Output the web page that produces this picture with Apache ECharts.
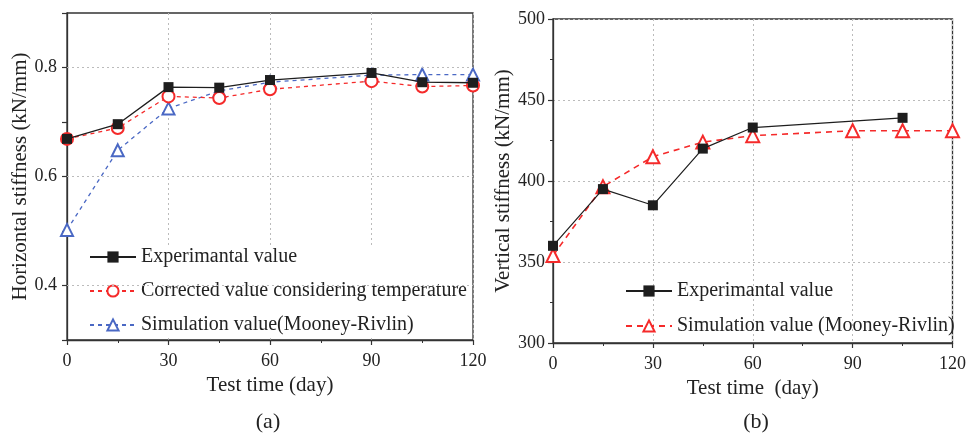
<!DOCTYPE html>
<html>
<head>
<meta charset="utf-8">
<script src="https://cdn.jsdelivr.net/npm/echarts@6/dist/echarts.min.js"></script>
<style>
html,body{margin:0;padding:0;background:#fff;}
#c{width:969px;height:434px;}
</style>
</head>
<body>
<div id="c"></div>
<script>
// ---- data (a) ----
const daysA = [0, 15, 30, 45, 60, 90, 105, 120];
const expA = [0.669, 0.696, 0.764, 0.763, 0.777, 0.790, 0.773, 0.772];
const corA = [0.669, 0.689, 0.747, 0.744, 0.760, 0.775, 0.765, 0.767];
const simA = [0.502, 0.648, 0.725, 0.757, 0.773, 0.786, 0.787, 0.787];
const yGridA = [0.4, 0.6, 0.8];
// ---- data (b) ----
const daysBexp = [0, 15, 30, 45, 60, 105];
const expB = [360, 395, 385, 420, 433, 439];
const daysBsim = [0, 15, 30, 45, 60, 90, 105, 120];
const simB = [354, 396.5, 415, 424, 428, 431, 431, 431];

const namesA = ['Experimantal value', 'Corrected value considering temperature', 'Simulation value(Mooney-Rivlin)'];
const namesB = ['Experimantal value', 'Simulation value (Mooney-Rivlin)'];
const captions = ['(a)', '(b)'];

const FONT = 'Liberation Serif';
const BLACK = '#1e1e1e', RED = '#f52a2a', BLUE = '#4a68c4';
const pairs = (xs, ys) => xs.map((x, i) => [x, ys[i]]);

const axisCommon = {
  axisLine: {show: true, onZero: false, lineStyle: {color: '#333', width: 1.3}},
  axisTick: {show: true, inside: false, length: 5, lineStyle: {color: '#333', width: 1.2}},
  axisLabel: {color: '#222', fontFamily: FONT, fontSize: 18},
  nameTextStyle: {color: '#222', fontFamily: FONT, fontSize: 21},
  nameLocation: 'middle'
};
const gridLine = {show: true, lineStyle: {color: '#bbbbbb', type: [2, 3], width: 1}};

const chart = echarts.init(document.getElementById('c'), null, {renderer: 'canvas'});
chart.setOption({
  animation: false,
  backgroundColor: '#fff',
  grid: [
    {left: 67, top: 13, width: 406, height: 327, show: true, borderColor: '#333', borderWidth: 1.3},
    {left: 553, top: 19, width: 403, height: 324, show: true, borderColor: '#333', borderWidth: 1.3}
  ],
  xAxis: [
    Object.assign({}, axisCommon, {
      gridIndex: 0, type: 'value', min: 0, max: 120, interval: 30,
      name: 'Test time (day)', nameGap: 30,
      axisLabel: Object.assign({}, axisCommon.axisLabel, {margin: 12}),
      minorTick: {show: true, splitNumber: 2, length: 3, lineStyle: {color: '#333'}},
      splitLine: gridLine
    }),
    Object.assign({}, axisCommon, {
      gridIndex: 1, type: 'value', min: 0, max: 120, interval: 30,
      name: 'Test time  (day)', nameGap: 30,
      axisLabel: Object.assign({}, axisCommon.axisLabel, {margin: 12}),
      minorTick: {show: true, splitNumber: 2, length: 3, lineStyle: {color: '#333'}},
      splitLine: gridLine
    })
  ],
  yAxis: [
    Object.assign({}, axisCommon, {
      gridIndex: 0, type: 'value', min: 0.3, max: 0.9, interval: 0.1,
      name: 'Horizontal stiffness (kN/mm)', nameGap: 34,
      axisLabel: Object.assign({}, axisCommon.axisLabel, {
        margin: 10,
        formatter: v => (Math.round(v * 10) % 2 === 0 ? v.toFixed(1) : '')
      }),
      splitLine: {show: false}
    }),
    Object.assign({}, axisCommon, {
      gridIndex: 1, type: 'value', min: 300, max: 500, interval: 50,
      name: 'Vertical stiffness (kN/mm)', nameGap: 38,
      axisLabel: Object.assign({}, axisCommon.axisLabel, {margin: 8}),
      minorTick: {show: true, splitNumber: 2, length: 3, lineStyle: {color: '#333'}},
      splitLine: gridLine
    })
  ],
  legend: [
    {
      data: namesA, orient: 'vertical', left: 89, top: 247,
      itemWidth: 46, itemHeight: 14, itemGap: 14,
      backgroundColor: '#fff', padding: 0,
      textStyle: {fontFamily: FONT, fontSize: 20, color: '#222', lineHeight: 18}
    },
    {
      data: namesB.map(n => ({name: n})), orient: 'vertical', left: 625, top: 281,
      itemWidth: 46, itemHeight: 14, itemGap: 15,
      padding: 0,
      textStyle: {fontFamily: FONT, fontSize: 20, color: '#222', lineHeight: 18}
    }
  ],
  graphic: [
    {type: 'text', x: 268, y: 422, style: {text: captions[0], fontFamily: FONT, fontSize: 22, fill: '#222', align: 'center', verticalAlign: 'middle'}},
    {type: 'text', x: 756, y: 422, style: {text: captions[1], fontFamily: FONT, fontSize: 22, fill: '#222', align: 'center', verticalAlign: 'middle'}}
  ],
  series: [
    {
      name: namesA[2], type: 'line', xAxisIndex: 0, yAxisIndex: 0,
      data: pairs(daysA, simA), symbol: 'emptyTriangle', symbolSize: 12,
      lineStyle: {color: BLUE, width: 1.3, type: [4, 4]},
      itemStyle: {color: BLUE, borderColor: BLUE, borderWidth: 1}, z: 3,
      markLine: {
        silent: true, symbol: 'none', label: {show: false},
        lineStyle: {color: '#bbbbbb', type: [2, 3], width: 1},
        data: yGridA.map(v => ({yAxis: v}))
      }
    },
    {
      name: namesA[1], type: 'line', xAxisIndex: 0, yAxisIndex: 0,
      data: pairs(daysA, corA), symbol: 'emptyCircle', symbolSize: 12,
      lineStyle: {color: RED, width: 1.3, type: [4, 4]},
      itemStyle: {color: RED, borderColor: RED, borderWidth: 1}, z: 4
    },
    {
      name: namesA[0], type: 'line', xAxisIndex: 0, yAxisIndex: 0,
      data: pairs(daysA, expA), symbol: 'rect', symbolSize: 10,
      lineStyle: {color: BLACK, width: 1.3},
      itemStyle: {color: BLACK}, z: 5
    },
    {
      name: namesB[1], type: 'line', xAxisIndex: 1, yAxisIndex: 1,
      data: pairs(daysBsim, simB), symbol: 'emptyTriangle', symbolSize: 13,
      lineStyle: {color: RED, width: 1.6, type: [6, 5]},
      itemStyle: {color: RED, borderColor: RED, borderWidth: 1.5}, z: 4
    },
    {
      name: namesB[0], type: 'line', xAxisIndex: 1, yAxisIndex: 1,
      data: pairs(daysBexp, expB), symbol: 'rect', symbolSize: 10,
      lineStyle: {color: BLACK, width: 1.2},
      itemStyle: {color: BLACK}, z: 5
    }
  ]
});
</script>
</body>
</html>
